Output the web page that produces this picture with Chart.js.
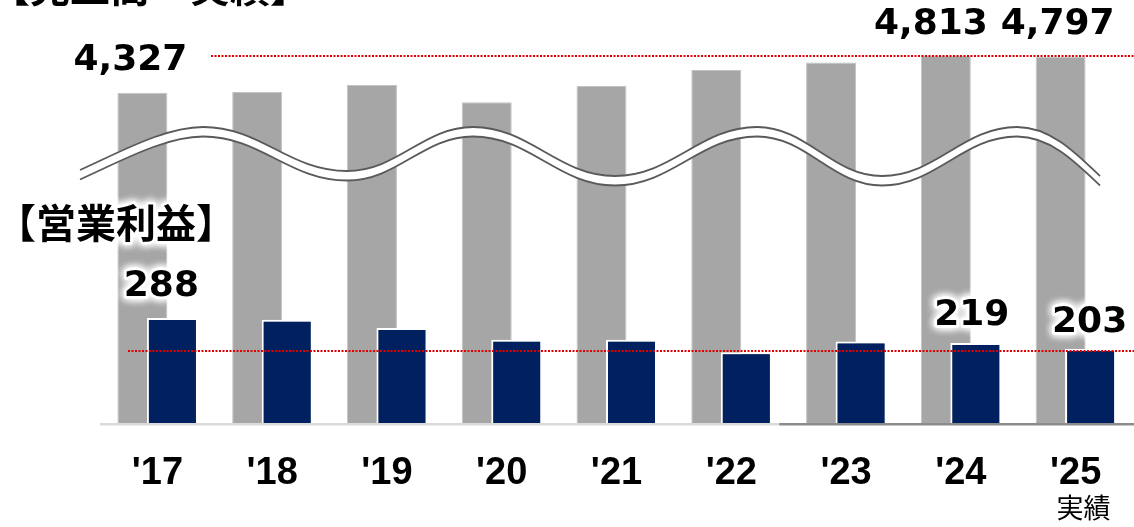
<!DOCTYPE html>
<html><head><meta charset="utf-8">
<script src="https://cdn.jsdelivr.net/npm/chart.js@4.4.1/dist/chart.umd.min.js"></script>
<style>html,body{margin:0;padding:0;background:#fff;overflow:hidden}</style>
</head><body>
<canvas id="c" width="1134" height="527"></canvas>
<script>
// ---- data ----
const categories = ["'17","'18","'19","'20","'21","'22","'23","'24","'25"];
const salesValues = [4327, 4336, 4428, 4201, 4415, 4624, 4722, 4813, 4797];
const profitValues = [288, 283, 260, 228, 228, 194, 223, 219, 203];
const salesLabelIdx = [0, 7, 8];
const profitLabelIdx = [0, 7, 8];
const salesRef = 4813;
const profitRef = 203;
const salesTitle = '【売上高\u3000実績】';
const profitTitle = '【営業利益】';
const lastNote = '実績';

const NUM_FONT = "bold 36px 'DejaVu Sans'";
const CJK_BOLD = "bold 40px 'Noto Sans CJK JP'";
const CJK_REG = "27px 'Noto Sans CJK JP'";

function glowText(ctx, text, x, y, font) {
  ctx.save();
  ctx.font = font;
  ctx.textAlign = 'center';
  ctx.textBaseline = 'middle';
  ctx.shadowColor = 'rgba(255,255,255,1)';
  ctx.shadowBlur = 8;
  ctx.fillStyle = '#fff';
  ctx.strokeStyle = '#fff';
  ctx.lineWidth = 5;
  ctx.lineJoin = 'round';
  for (let i = 0; i < 3; i++) { ctx.strokeText(text, x, y); }
  ctx.restore();
  ctx.save();
  ctx.font = font;
  ctx.textAlign = 'center';
  ctx.textBaseline = 'middle';
  ctx.fillStyle = '#000';
  ctx.fillText(text, x, y);
  ctx.restore();
}

const waveStart = [80, 170];
const waveSegs = [
  [120,152, 165,127, 203,127],
  [261,127, 289,171, 347,171],
  [398,171, 423,127, 473,127],
  [530,127, 558,176, 615,176],
  [672,176, 700,127, 757,127],
  [807,127, 832,176, 882,176],
  [936,176, 963,127, 1017,127],
  [1050,127, 1075,152, 1100,176]
];
const waveGap = 9.5;

function traceWave(ctx, dy, move) {
  if (move) ctx.moveTo(waveStart[0], waveStart[1] + dy);
  for (const s of waveSegs) ctx.bezierCurveTo(s[0], s[1]+dy, s[2], s[3]+dy, s[4], s[5]+dy);
}
function traceWaveReverse(ctx, dy) {
  const pts = [waveStart].concat(waveSegs.map(s => [s[4], s[5]]));
  ctx.lineTo(pts[pts.length-1][0], pts[pts.length-1][1] + dy);
  for (let i = waveSegs.length - 1; i >= 0; i--) {
    const s = waveSegs[i];
    const p = pts[i];
    ctx.bezierCurveTo(s[2], s[3]+dy, s[0], s[1]+dy, p[0], p[1]+dy);
  }
}

const decor = {
  id: 'decor',
  beforeDatasetsDraw(chart) {
    const ctx = chart.ctx, a = chart.chartArea;
    const y = a.bottom + 1.3;
    const split = a.left + (a.right - a.left) * 0.6575;
    ctx.save();
    ctx.lineWidth = 2.6;
    ctx.strokeStyle = '#dadada';
    ctx.beginPath(); ctx.moveTo(a.left, y); ctx.lineTo(split, y); ctx.stroke();
    ctx.strokeStyle = '#8c8c8c';
    ctx.beginPath(); ctx.moveTo(split, y); ctx.lineTo(chart.width, y); ctx.stroke();
    ctx.restore();
  },
  afterDatasetsDraw(chart) {
    const ctx = chart.ctx;
    const xs = chart.scales.x, ys = chart.scales.y, y2 = chart.scales.y2;
    const mSales = chart.getDatasetMeta(0), mProfit = chart.getDatasetMeta(1);

    // profit bars sit in front of the sales bars
    mProfit.data.forEach(el => el.draw(ctx));

    // axis break
    ctx.save();
    ctx.beginPath();
    traceWave(ctx, 0, true);
    traceWaveReverse(ctx, waveGap);
    ctx.closePath();
    ctx.fillStyle = '#fff';
    ctx.fill();
    ctx.strokeStyle = '#5a5a5a';
    ctx.lineWidth = 1.8;
    ctx.beginPath(); traceWave(ctx, 0, true); ctx.stroke();
    ctx.beginPath(); traceWave(ctx, waveGap, true); ctx.stroke();
    ctx.restore();

    // reference lines
    ctx.save();
    ctx.strokeStyle = '#e00000';
    ctx.lineWidth = 2;
    ctx.setLineDash([2, 1.5]);
    const ry1 = Math.round(ys.getPixelForValue(salesRef));
    ctx.beginPath(); ctx.moveTo(211, ry1); ctx.lineTo(chart.width, ry1); ctx.stroke();
    const ry2 = Math.round(y2.getPixelForValue(profitRef)) + 2;
    ctx.beginPath(); ctx.moveTo(128, ry2); ctx.lineTo(chart.width, ry2); ctx.stroke();
    ctx.restore();

    // value labels
    const salesOff = {0: [-12, -32], 7: [-15, -31], 8: [-3, -32]};
    salesLabelIdx.forEach(i => {
      const bar = mSales.data[i];
      const o = salesOff[i] || [0, -30];
      glowText(ctx, salesValues[i].toLocaleString('en-US'), bar.x + o[0], bar.y + o[1], NUM_FONT);
    });
    const profOff = {0: [-11, -31], 7: [-4, -27], 8: [-1, -26.5]};
    profitLabelIdx.forEach(i => {
      const bar = mProfit.data[i];
      const o = profOff[i] || [0, -30];
      glowText(ctx, String(profitValues[i]), bar.x + o[0], bar.y + o[1], NUM_FONT);
    });

    // section titles
    glowText(ctx, salesTitle, 150, -13, CJK_BOLD);
    glowText(ctx, profitTitle, 116, 223, CJK_BOLD);

    // note under the last category
    ctx.save();
    ctx.font = CJK_REG;
    ctx.textAlign = 'center';
    ctx.textBaseline = 'middle';
    ctx.fillStyle = '#000';
    ctx.fillText(lastNote, xs.getPixelForValue(categories.length - 1) + 8, 508);
    ctx.restore();
  }
};

new Chart(document.getElementById('c'), {
  type: 'bar',
  data: {
    labels: categories,
    datasets: [
      {
        label: '売上高',
        data: salesValues,
        yAxisID: 'y',
        backgroundColor: '#a6a6a6',
        borderColor: '#c4c4c4',
        borderWidth: 1,
        barPercentage: 1.667,
        categoryPercentage: 0.5226
      },
      {
        label: '営業利益',
        data: profitValues,
        yAxisID: 'y2',
        backgroundColor: '#00205f',
        borderColor: '#ffffff',
        borderWidth: 2,
        barPercentage: 1.7,
        categoryPercentage: 0.5226
      }
    ]
  },
  options: {
    responsive: false,
    devicePixelRatio: 1,
    animation: false,
    layout: { padding: { left: 100, right: 1, top: 0, bottom: 3.4 } },
    plugins: { legend: { display: false }, tooltip: { enabled: false }, title: { display: false } },
    scales: {
      x: {
        offset: true,
        grid: { display: false, drawTicks: false },
        border: { display: false },
        ticks: {
          color: '#000',
          padding: 27.5,
          maxRotation: 0,
          autoSkip: false,
          font: { family: "'Liberation Sans'", weight: 'bold', size: 38 }
        }
      },
      y: { display: false, min: 0, max: 5541 },
      y2: { display: false, min: 0, max: 1159, position: 'right' }
    }
  },
  plugins: [decor]
});
</script>
</body></html>
